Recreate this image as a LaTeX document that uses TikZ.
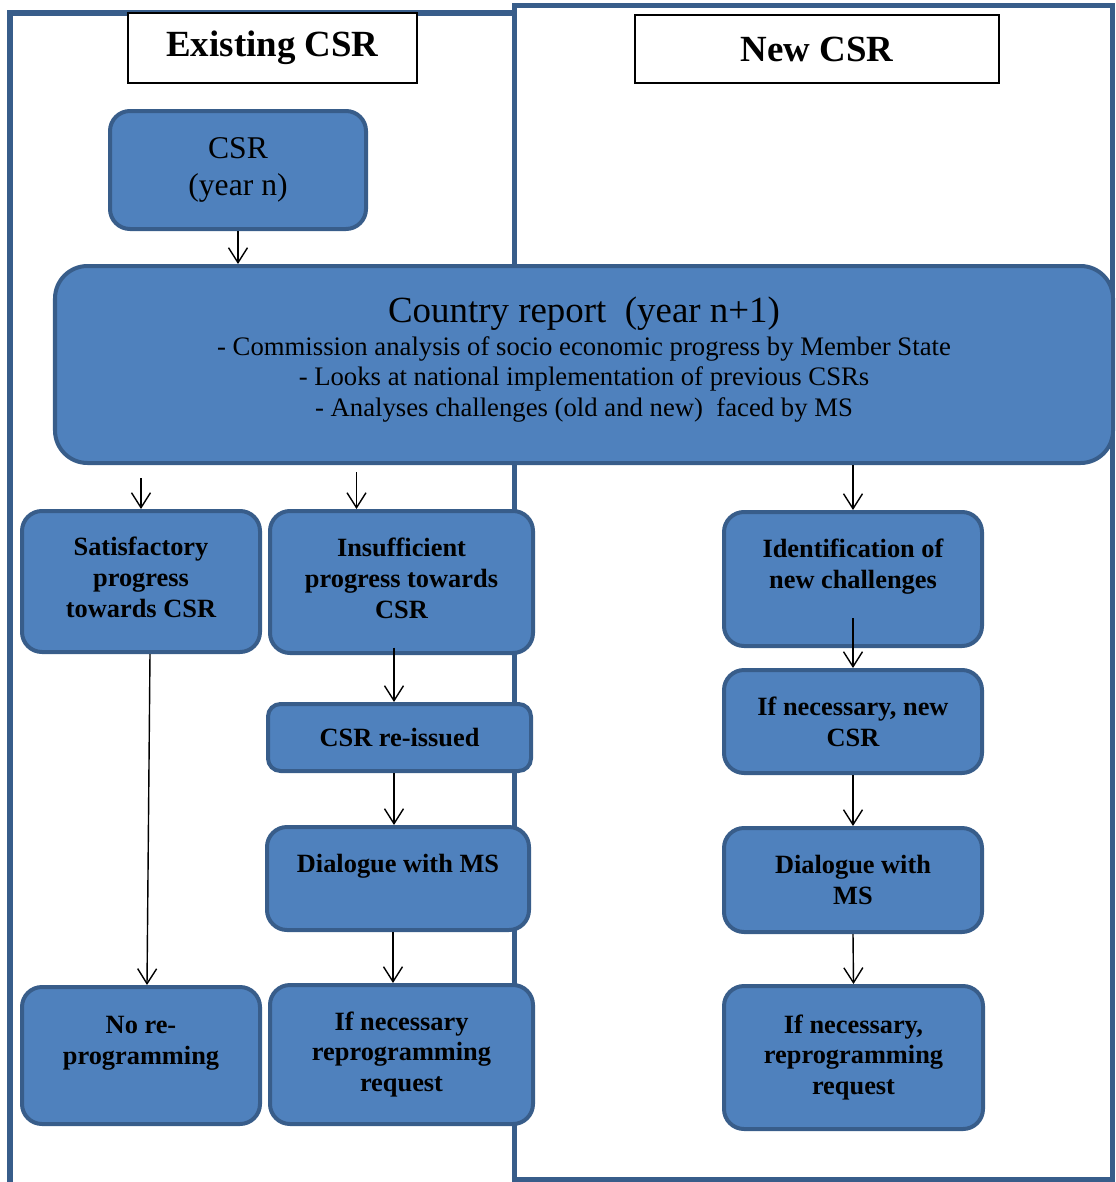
\documentclass[tikz,border=0pt]{standalone}
\usepackage{fontspec}
\setmainfont{Liberation Serif}
\usetikzlibrary{arrows.meta, calc}
\definecolor{boxblue}{HTML}{4F81BD}
\definecolor{edgeblue}{HTML}{385D8A}

\begin{document}
\begin{tikzpicture}[
    box/.style={draw=edgeblue, fill=boxblue, line width=0.08cm, rounded corners=0.4cm, align=center, font=\fontsize{15}{17.6}\selectfont\bfseries},
    headbox/.style={draw=black, fill=white, line width=0.7pt, font=\fontsize{21}{25}\selectfont\bfseries},
    panel/.style={draw=edgeblue, line width=0.1cm},
    arr/.style={-{Straight Barb[length=0.3cm, width=0.38cm]}, line width=0.8pt}
]
    \useasboundingbox (0,0) rectangle (22.3,-23.64);
    % the two columns
    \draw[panel] (0.2,-0.26) rectangle (10.28,-24.2);
    \draw[panel] (10.28,-0.12) rectangle (22.24,-23.58);
    \node[headbox, minimum width=5.78cm, minimum height=1.4cm] (oldhead) at (5.45,-0.96) {Existing CSR};
    \node[headbox, minimum width=7.28cm, minimum height=1.36cm] (newhead) at (16.34,-0.98) {New CSR};

    \node[box, minimum width=5.12cm, minimum height=2.36cm, font=\fontsize{18}{21.5}\selectfont] (csr) at (4.76,-3.40) {CSR\\(year n)};
    \node[box, rounded corners=0.65cm, minimum width=21.16cm, minimum height=3.94cm, font=\fontsize{15.2}{17.3}\selectfont] (country) at (11.68,-7.29)
        {{\fontsize{21}{25}\selectfont Country report\ \ (year n+1)}\\[1.5pt]
         - Commission analysis of socio economic progress by Member State\\
         - Looks at national implementation of previous CSRs\\
         - Analyses challenges (old and new)\ \ faced by MS\\[-8pt]\mbox{}};

    % second row
    \node[box, minimum width=4.76cm, minimum height=2.82cm] (sat) at (2.82,-11.63) {Satisfactory\\progress\\towards CSR\\[-13pt]\mbox{}};
    \node[box, minimum width=5.26cm, minimum height=2.84cm] (insuf) at (8.03,-11.64) {Insufficient\\progress towards\\CSR\\[-13pt]\mbox{}};
    \node[box, minimum width=5.16cm, minimum height=2.68cm] (ident) at (17.06,-11.58) {Identification of\\new challenges\\ \mbox{}};

    \node[box, rounded corners=0.25cm, minimum width=5.26cm, minimum height=1.34cm] (reissue) at (7.99,-14.75) {CSR re-issued};
    \node[box, minimum width=5.16cm, minimum height=2.06cm] (newcsr) at (17.06,-14.43) {If necessary, new\\CSR};
    \node[box, minimum width=5.24cm, minimum height=2.06cm] (dial1) at (7.96,-17.57) {Dialogue with MS\\ \mbox{}};
    \node[box, minimum width=5.16cm, minimum height=2.08cm] (dial2) at (17.06,-17.6) {Dialogue with\\MS};

    \node[box, minimum width=4.76cm, minimum height=2.74cm] (norep) at (2.82,-21.11) {No re-\\programming\\ \mbox{}};
    \node[box, minimum width=5.26cm, minimum height=2.78cm] (ifnec1) at (8.03,-21.09) {If necessary\\reprogramming\\request};
    \node[box, minimum width=5.18cm, minimum height=2.86cm] (ifnec2) at (17.07,-21.15) {If necessary,\\reprogramming\\request};

    \draw[arr] (csr.south) -- (csr.south |- country.north);
    \draw[arr, shorten <=0.26cm] (sat.north |- country.south) -- (sat.north);
    \draw[arr, shorten <=0.14cm] ($(insuf.north |- country.south)+(-0.9,0)$) -- ($(insuf.north)+(-0.9,0)$);
    \draw[arr] (ident.north |- country.south) -- (ident.north);
    \draw[arr] ($(sat.south)+(0.18,0)$) -- ($(norep.north)+(0.12,0)$);
    \draw[arr] ($(insuf.south)+(-0.15,0.15)$) -- ($(insuf.south |- reissue.north)+(-0.15,0)$);
    \draw[arr] ($(reissue.south)+(-0.11,0)$) -- ($(reissue.south |- dial1.north)+(-0.11,0)$);
    \draw[arr] ($(dial1.south)+(-0.1,0)$) -- ($(dial1.south |- ifnec1.north)+(-0.1,0)$);
    \draw[arr] ($(ident.south)+(0,0.6)$) -- (newcsr.north);
    \draw[arr] (newcsr.south) -- (dial2.north);
    \draw[arr] (dial2.south) -- (ifnec2.north);
\end{tikzpicture}
\end{document}
